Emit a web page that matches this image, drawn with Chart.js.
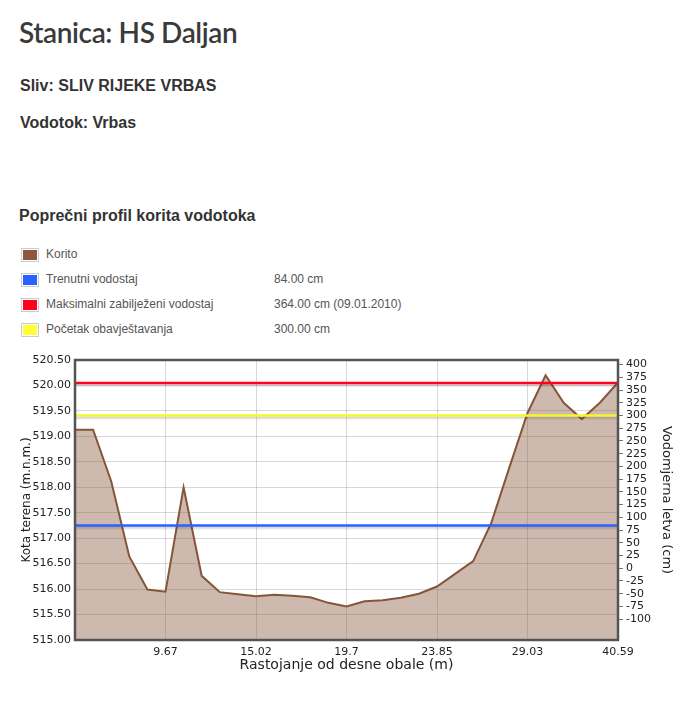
<!DOCTYPE html>
<html>
<head>
<meta charset="utf-8">
<script src="https://cdn.jsdelivr.net/npm/chart.js@4.4.1/dist/chart.umd.min.js"></script>
<style>
  html, body { margin: 0; padding: 0; background: #fff; width: 680px; height: 720px; overflow: hidden; }
  .abs { position: absolute; white-space: nowrap; }
  #title { left: 19px; top: 18px; font-family: Lato, "Noto Sans", sans-serif; font-weight: 600; font-size: 28px; line-height: 28px; letter-spacing: -0.4px; color: #3a3a3a; }
  .h { font-family: "Liberation Sans", Arial, sans-serif; font-weight: bold; font-size: 16px; line-height: 16px; color: #333; }
  .lg { font-family: "Liberation Sans", Arial, sans-serif; font-size: 12px; line-height: 12px; color: #555; }
  .box { position: absolute; border: 1px solid #ccc; padding: 1px; }
  .box div { width: 4px; height: 0; border: 5px solid; overflow: hidden; }
  #chartWrap { position: absolute; left: 0; top: 340px; width: 680px; height: 345px; }
</style>
</head>
<body>
<div id="title" class="abs">Stanica: HS Daljan</div>
<div class="abs h" style="left:20px;top:78px;">Sliv: SLIV RIJEKE VRBAS</div>
<div class="abs h" style="left:20px;top:115px;">Vodotok: Vrbas</div>
<div class="abs h" style="left:19px;top:208px;">Poprečni profil korita vodotoka</div>
<div id="legend"></div>
<div id="chartWrap"><canvas id="c" width="680" height="345"></canvas></div>
<script>
// ---- data ----
const elevations = [519.13, 519.13, 518.12, 516.64, 515.99, 515.95, 518.00, 516.26, 515.94, 515.90,
                    515.86, 515.89, 515.87, 515.84, 515.73, 515.66, 515.76, 515.78, 515.83, 515.91,
                    516.05, 516.30, 516.55, 517.30, 518.39, 519.46, 520.20, 519.66, 519.34, 519.66,
                    520.06];
const tickIndex = [0, 5, 10, 15, 20, 25, 30];
const tickLabels = ['', '9.67', '15.02', '19.7', '23.85', '29.03', '40.59'];
const elevTicks = [515.00, 515.50, 516.00, 516.50, 517.00, 517.50, 518.00, 518.50, 519.00, 519.50, 520.00, 520.50];
const gaugeTicks = [-100, -75, -50, -25, 0, 25, 50, 75, 100, 125, 150, 175, 200, 225, 250, 275, 300, 325, 350, 375, 400];
const gaugeZero = 516.41;          // m.n.m. of gauge zero
const currentLevel = 84;           // cm
const maxLevel = 364;              // cm
const warnLevel = 300;             // cm
const legendNames = ['Korito', 'Trenutni vodostaj', 'Maksimalni zabilježeni vodostaj', 'Početak obavještavanja'];
const legendValues = ['', '84.00 cm', '364.00 cm (09.01.2010)', '300.00 cm'];
const colors = ['#8b573e', '#2962ff', '#ff001e', '#ffff33'];

// ---- legend ----
const lg = document.getElementById('legend');
legendNames.forEach((n, i) => {
  const y = 248 + i * 25;
  lg.insertAdjacentHTML('beforeend',
    `<div class="box" style="left:21px;top:${y}px;"><div style="border-color:${colors[i]}"></div></div>` +
    `<div class="abs lg" style="left:46px;top:${y}px;">${n}</div>` +
    `<div class="abs lg" style="left:274px;top:${y}px;">${legendValues[i]}</div>`);
});

// ---- chart ----
const lastIdx = elevations.length - 1;
const profile = elevations.map((v, i) => ({x: i, y: v}));
const levelLine = (v) => [{x: 0, y: v}, {x: lastIdx, y: v}];
const gaugeMin = (elevTicks[0] - gaugeZero) * 100;
const gaugeMax = (elevTicks[elevTicks.length - 1] - gaugeZero) * 100;

const axisFont = {family: '"DejaVu Sans", Verdana, sans-serif', size: 11};
const gridCol = 'rgba(0,0,0,0.15)';

const framePlugin = {
  id: 'frame',
  beforeDatasetDraw(chart, args) {
    if (args.index > 0) {
      const ctx = chart.ctx;
      ctx.save();
      ctx.shadowColor = 'rgba(0,0,0,0.18)';
      ctx.shadowOffsetY = 2;
      ctx.shadowBlur = 2;
    }
  },
  afterDatasetDraw(chart, args) {
    if (args.index > 0) chart.ctx.restore();
  },
  afterDatasetsDraw(chart) {
    const {ctx, chartArea: a} = chart;
    ctx.save();
    ctx.strokeStyle = '#545454';
    ctx.lineWidth = 2.5;
    ctx.strokeRect(a.left, a.top, a.right - a.left, a.bottom - a.top);
    ctx.restore();
  }
};

new Chart(document.getElementById('c'), {
  type: 'line',
  data: {
    datasets: [
      {data: profile, yAxisID: 'y', borderColor: '#85553a', borderWidth: 2,
       backgroundColor: 'rgba(139,87,62,0.42)', fill: 'start', pointRadius: 0, order: 10, tension: 0},
      {data: levelLine(currentLevel), yAxisID: 'y2', borderColor: colors[1], borderWidth: 2.5, fill: false, pointRadius: 0, order: 1},
      {data: levelLine(maxLevel), yAxisID: 'y2', borderColor: colors[2], borderWidth: 2.5, fill: false, pointRadius: 0, order: 1},
      {data: levelLine(warnLevel), yAxisID: 'y2', borderColor: '#f7f72a', borderWidth: 2.5, fill: false, pointRadius: 0, order: 1}
    ]
  },
  options: {
    responsive: false,
    animation: false,
    devicePixelRatio: 1,
    layout: {padding: {top: 20, left: 0, right: 0, bottom: 0}},
    plugins: {legend: {display: false}, tooltip: {enabled: false}},
    scales: {
      x: {
        type: 'linear', min: 0, max: lastIdx,
        afterBuildTicks: (s) => { s.ticks = tickIndex.map(v => ({value: v})); },
        afterFit: (s) => { s.height = 45; },
        grid: {color: gridCol, drawTicks: false},
        border: {display: false},
        ticks: {font: axisFont, color: '#222', padding: 6, maxRotation: 0, autoSkip: false,
                callback: (v) => { const k = tickIndex.indexOf(v); return k >= 0 ? tickLabels[k] : ''; }},
        title: {display: true, text: 'Rastojanje od desne obale (m)', color: '#222',
                font: {family: '"DejaVu Sans", Verdana, sans-serif', size: 14}, padding: {top: 0, bottom: 11}}
      },
      y: {
        type: 'linear', position: 'left', min: elevTicks[0], max: elevTicks[elevTicks.length - 1],
        afterBuildTicks: (s) => { s.ticks = elevTicks.map(v => ({value: v})); },
        afterFit: (s) => { s.width = 75; },
        grid: {color: gridCol, drawTicks: false},
        border: {display: false},
        ticks: {font: axisFont, color: '#222', padding: 4, autoSkip: false, callback: (v) => v.toFixed(2)},
        title: {display: true, text: 'Kota terena (m.n.m.)', color: '#222',
                font: {family: '"DejaVu Sans", Verdana, sans-serif', size: 12}, padding: {top: 20, bottom: 0}}
      },
      y2: {
        type: 'linear', position: 'right', min: gaugeMin, max: gaugeMax,
        afterBuildTicks: (s) => { s.ticks = gaugeTicks.map(v => ({value: v})); },
        afterFit: (s) => { s.width = 62; },
        grid: {drawOnChartArea: false, drawTicks: true, tickLength: 5, tickColor: '#777'},
        border: {display: false},
        ticks: {font: axisFont, color: '#222', padding: 3, autoSkip: false, callback: (v) => String(v)},
        title: {display: true, text: 'Vodomjerna letva (cm)', color: '#222',
                font: {family: '"DejaVu Sans", Verdana, sans-serif', size: 13}, padding: {top: 6, bottom: 0}}
      }
    }
  },
  plugins: [framePlugin]
});
</script>
</body>
</html>
